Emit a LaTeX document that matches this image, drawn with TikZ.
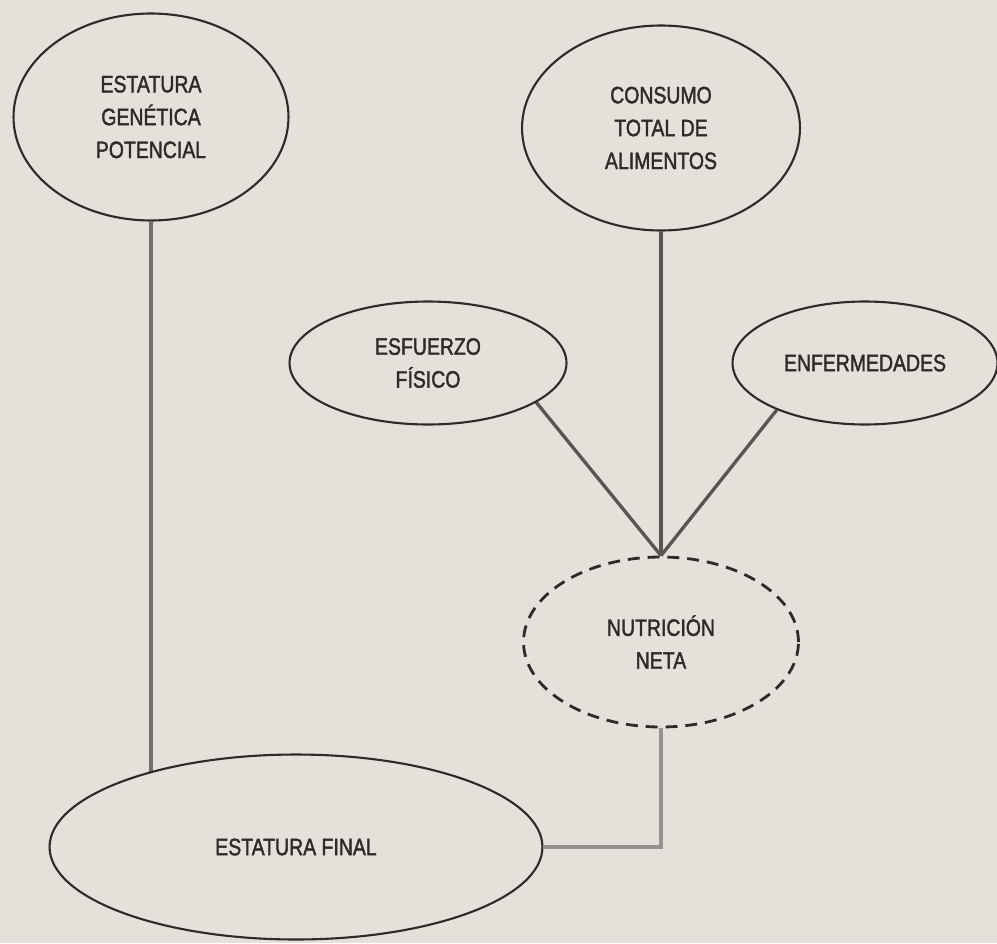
\documentclass[tikz,border=0pt]{standalone}
\usepackage{fontspec}
\newfontfamily\condfont[FakeStretch=0.82,FakeBold=1.6]{Liberation Sans}
\usetikzlibrary{shapes.geometric,backgrounds}
\definecolor{paper}{HTML}{E4E1DA}
\definecolor{ink}{HTML}{2E2A29}
\definecolor{wire}{HTML}{5A5551}
\tikzset{
  bubble/.style={ellipse,draw=ink,line width=1.2pt,fill=paper,inner sep=0pt,align=center,text=ink,
    font=\condfont\fontsize{13.5}{18.7}\selectfont},
  link/.style={wire,line width=1.9pt},
}
\begin{document}
\begin{tikzpicture}[x=0.02cm,y=-0.02cm]
		\path[use as bounding box] (0,0) rectangle (997,943);
		
		\node[bubble,minimum width=5.5cm,minimum height=4.14cm] at (151,117) (gen) {ESTATURA\\GENÉTICA\\POTENCIAL};
		\node[bubble,minimum width=5.56cm,minimum height=4.1cm] at (661,128) (cons) {CONSUMO\\TOTAL DE\\ALIMENTOS};
		\node[bubble,minimum width=5.54cm,minimum height=2.46cm] at (428,363) (esf) {ESFUERZO\\FÍSICO};
		\node[bubble,minimum width=5.3cm,minimum height=2.46cm] at (865,363) (enf) {ENFERMEDADES};
		\node[bubble,line width=1.6pt,dash pattern=on 6.8pt off 4.5pt,minimum width=5.5cm,minimum height=3.4cm] at (661,642) (nut) {NUTRICIÓN\\NETA};
		\node[bubble,minimum width=9.86cm,minimum height=3.7cm] at (296,847) (final) {ESTATURA FINAL};
		
		\begin{scope}[on background layer]
		\fill[paper] (0,0) rectangle (997,943);
		\draw[link,wire!85] (gen.south) -- (gen.south |- final.center);
		\draw[link] (cons.south) -- (nut.north);
		\draw[link] (esf.-20) -- (nut.north);
		\draw[link] (enf.208) -- (nut.north);
		\draw[link,wire!65] (nut.south) |- (final.east);
		\end{scope}
	\end{tikzpicture}
\end{document}
